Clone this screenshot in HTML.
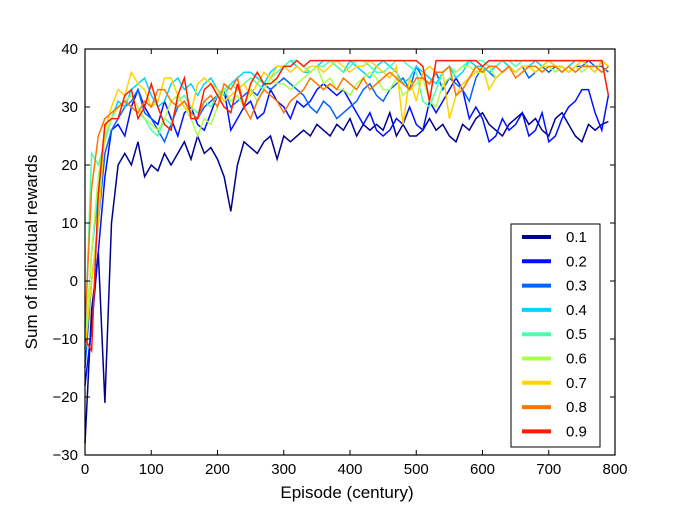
<!DOCTYPE html>
<html><head><meta charset="utf-8"><style>
body{margin:0;background:#fff}
svg text{font-family:"Liberation Sans",sans-serif;fill:#000}
</style></head><body>
<svg id="chart" width="676" height="507" viewBox="0 0 676 507" xmlns="http://www.w3.org/2000/svg">
<rect x="0" y="0" width="676" height="507" fill="#fff"/>
<g id="series"></g>
<rect x="85" y="49" width="530" height="406" fill="none" stroke="#000" stroke-width="1.2"/>
<g id="axes"></g>
<text x="347" y="498" font-size="17" text-anchor="middle">Episode (century)</text>
<text transform="translate(37,252) rotate(-90)" font-size="17" text-anchor="middle">Sum of individual rewards</text>
<g id="legend"></g>
</svg>
<script>
const episodes=[];for(let i=0;i<80;i++)episodes.push(i*10);
const labels=["0.1","0.2","0.3","0.4","0.5","0.6","0.7","0.8","0.9"];
const colors=["#00008f","#0010ff","#0064ff","#00d4ff","#4dffaa","#aaff4d","#ffd400","#ff7400","#ff1a00"];
const xTicks=[0,100,200,300,400,500,600,700,800];
const yTicks=[-30,-20,-10,0,10,20,30,40];
const s01=[-28,-5,5,-21,10,20,22,20,24,18,20,19,22,20,22,24,21,25,22,23,21,18,12,20,24,23,22,24,25,21,25,24,25,26,25,27,26,25,27,26,28,25,27,26,27,26,29,25,27,25,25,26,28,26,27,25,24,27,26,28,29,27,26,25,27,28,29,27,28,26,25,28,29,27,25,24,27,26,27,27.5];
const s02=[-18,-8,5,18,26,27,25,30,33,30,28,27,31,28,25,29,30,27,26,29,32,33,26,28,30,31,28,29,33,31,30,28,31,30,31,33,34,33,32,33,31,29,27,29,26,25,26,28,27,30,27,26,31,29,31,33,35,33,28,30,28,24,25,28,26,27,29,25,26,29,24,25,28,30,31,33,33,29,26,32];
const s03=[-15,0,10,22,26,28,30,31,33,29,28,26,24,27,30,31,29,28,30,31,32,33,30,31,32,33,32,34,33,34,35,34,33,32,30,29,31,30,28,29,30,31,33,34,32,31,33,34,35,33,37,35,34,36,33,35,34,33,31,35,37,36,35,36,37,36,37,35,36,37,36,37,37,36,37,37,38,37,37,36];
const s04=[-12,5,15,25,28,31,30,33,34,35,32,30,31,34,35,33,34,32,34,35,33,32,34,35,36,36,35,34,36,37,37,38,37,36,36,37,38,38,37,36,38,37,36,35,37,38,37,36,34,35,37,36,35,34,36,37,35,36,38,37,37,36,37,38,37,36,37,37,38,37,38,37,36,37,38,38,37,36,38,37];
const s05=[-10,22,20,24,28,30,31,30,29,28,26,25,28,27,31,32,30,29,31,30,32,33,34,33,34,35,34,33,35,36,37,38,38,37,36,37,37,38,37,36,37,38,38,37,36,36,37,38,38,37,36,31,30,33,36,37,36,37,38,38,38,37,37,38,38,37,38,38,38,38,38,38,38,38,38,38,38,38,38,37];
const s06=[-12,5,18,25,28,30,31,32,30,28,27,26,28,31,32,30,28,25,28,27,30,33,31,32,30,33,31,33,35,34,34,33,34,35,36,37,34,35,33,33,32,34,35,36,35,33,33,35,32,33,34,35,31,30,34,35,36,37,37,36,36,37,35,36,37,36,37,37,36,37,37,36,37,36,37,36,37,37,36,37];
const s07=[-12,0,10,26,30,33,32,36,34,33,30,31,35,35,32,30,29,34,35,34,33,31,32,33,34,32,34,36,35,37,37,36,37,36,37,37,36,37,38,37,36,37,37,38,37,36,35,37,27,35,31,36,37,36,36,28,32,34,35,36,37,33,35,36,37,36,37,37,36,37,38,37,37,36,37,38,37,36,38,37];
const s08=[-8,16,25,28,29,30,31,30,29,31,30,33,33,31,30,31,29,28,31,32,30,34,33,35,30,28,31,33,32,31,29,31,32,33,35,34,33,34,33,35,34,33,35,33,34,35,36,35,34,33,35,35,34,36,36,37,32,33,35,37,36,37,37,36,37,35,36,37,37,36,37,37,36,37,36,37,37,37,36,37];
const s09=[-10,-12,15,27,28,28,32,33,28,30,34,30,27,26,32,35,28,28,33,34,32,30,29,34,30,34,36,34,34,35,37,37,38,37,38,38,38,38,38,38,38,38,38,38,38,38,38,38,38,38,38,37,31,38,38,38,38,38,38,38,37,38,38,38,38,38,38,38,38,38,38,38,38,38,38,38,38,38,38,32];
const allSeries=[s01,s02,s03,s04,s05,s06,s07,s08,s09];
const X=v=>85+v*530/800, Y=v=>455-(v+30)*406/70;
const NS="http://www.w3.org/2000/svg";
const g=document.getElementById('series');
allSeries.forEach((s,k)=>{
  const p=document.createElementNS(NS,'polyline');
  p.setAttribute('points',s.map((v,i)=>X(episodes[i]).toFixed(1)+','+Y(v).toFixed(1)).join(' '));
  p.setAttribute('fill','none');p.setAttribute('stroke',colors[k]);p.setAttribute('stroke-width','1.5');
  
  
  g.appendChild(p);
});
const ax=document.getElementById('axes');
xTicks.forEach(t=>{
  const l=document.createElementNS(NS,'path');
  l.setAttribute('d',`M${X(t)},455v-5M${X(t)},49v5`);l.setAttribute('stroke','#000');
  
  
  ax.appendChild(l);
  const tx=document.createElementNS(NS,'text');
  tx.setAttribute('x',X(t));tx.setAttribute('y',474);tx.setAttribute('font-size','15');tx.setAttribute('text-anchor','middle');
  tx.textContent=t;
  
  
  ax.appendChild(tx);
});
yTicks.forEach(t=>{
  const l=document.createElementNS(NS,'path');
  l.setAttribute('d',`M85,${Y(t)}h5M615,${Y(t)}h-5`);l.setAttribute('stroke','#000');
  
  
  ax.appendChild(l);
  const tx=document.createElementNS(NS,'text');
  tx.setAttribute('x',78);tx.setAttribute('y',Y(t)+5);tx.setAttribute('font-size','15');tx.setAttribute('text-anchor','end');
  tx.textContent=t<0?'\u2212'+(-t):t;
  
  
  ax.appendChild(tx);
});
const lg=document.getElementById('legend');
const box=document.createElementNS(NS,'rect');
box.setAttribute('x',511);box.setAttribute('y',224);box.setAttribute('width',89);box.setAttribute('height',223);
box.setAttribute('fill','#fff');box.setAttribute('stroke','#000');


lg.appendChild(box);
labels.forEach((lab,k)=>{
  const y=237+k*24.3;
  const l=document.createElementNS(NS,'line');
  l.setAttribute('x1',522);l.setAttribute('x2',551);l.setAttribute('y1',y);l.setAttribute('y2',y);
  l.setAttribute('stroke',colors[k]);l.setAttribute('stroke-width','4');
  
  
  lg.appendChild(l);
  const tx=document.createElementNS(NS,'text');
  tx.setAttribute('x',566);tx.setAttribute('y',y+5);tx.setAttribute('font-size','15');
  tx.textContent=lab;
  
  
  lg.appendChild(tx);
});
</script>
</body></html>
